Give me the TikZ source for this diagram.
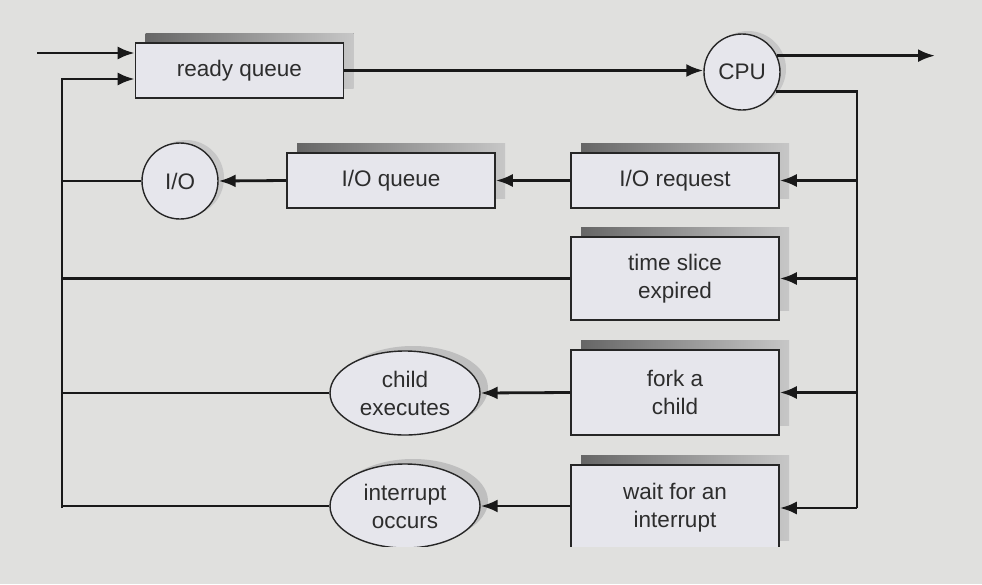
\documentclass[tikz,border=0pt]{standalone}
\usepackage{fontspec}
\setmainfont{Liberation Sans}
\usetikzlibrary{arrows.meta,shapes.geometric,shadows}
\definecolor{bg}{RGB}{224,224,222}
\definecolor{boxfill}{RGB}{230,230,236}
\definecolor{txt}{RGB}{45,45,45}
\tikzset{
  box/.style={draw=black!85, line width=1.6pt, fill=boxfill, rectangle,
    minimum width=208pt, inner sep=0pt, align=center, text=txt,
    font=\fontsize{22.5}{28}\selectfont,
    drop shadow={shadow xshift=10pt, shadow yshift=10pt, opacity=1,
      left color=black!60, right color=black!22, draw=none}},
  rnd/.style={draw=black!85, line width=1.4pt, fill=boxfill, circle,
    minimum size=76pt, inner sep=0pt, text=txt, font=\fontsize{22.5}{28}\selectfont,
    drop shadow={shadow xshift=6pt, shadow yshift=3pt, opacity=1, fill=black!22, draw=none}},
  ell/.style={draw=black!85, line width=1.4pt, fill=boxfill, ellipse,
    minimum width=150pt, minimum height=84pt, inner sep=0pt, align=center, text=txt,
    font=\fontsize{22.5}{28}\selectfont,
    drop shadow={shadow xshift=8pt, shadow yshift=5pt, opacity=1, fill=black!25, draw=none}},
  wire/.style={line width=2.8pt, draw=black!90},
  arr/.style={wire, -{Latex[length=17pt,width=13pt]}}
}
\begin{document}
\begin{tikzpicture}[x=1pt,y=-1pt]
\fill[bg] (0,0) rectangle (982,584);
\useasboundingbox (0,0) rectangle (982,584);

\node[box, minimum height=55pt] (rq) at (239.5,70.5) {ready queue};
\node[rnd] (cpu) at (742,72) {CPU};
\node[box, minimum height=55pt] (ioreq) at (675,180.5) {I/O request};
\node[box, minimum height=55pt] (ioq) at (391,180.5) {I/O queue};
\node[rnd] (io) at (180,181) {I/O};
\node[box, minimum height=83pt] (ts) at (675,278.5) {time slice\\expired};
\node[box, minimum height=85pt] (fork) at (675,392.5) {fork a\\child};
\node[ell] (child) at (405,393) {child\\executes};
\begin{scope}
\clip (0,0) rectangle (982,546);
\node[box, minimum height=85pt] (wait) at (675,507.5) {wait for an\\interrupt};
\node[ell] (intr) at (405,506) {interrupt\\occurs};
\end{scope}

\coordinate (in1) at (37,53);
\coordinate (out) at (935,56);
\coordinate (rbot) at (857,508);
\coordinate (lbot) at (62,508);

% inputs to ready queue
\draw[arr] (in1) -- (in1 -| rq.west);
\draw[arr] (lbot) |- ([yshift=-8.5pt]rq.west);
% ready queue to CPU
\draw[arr] (rq.east) -- (rq.east -| cpu.west);
% CPU outputs
\draw[arr] (cpu.25) -- (out |- cpu.25);
\draw[wire] (cpu.-30) -| (rbot);
% right bus to event boxes
\draw[arr] (rbot |- ioreq) -- (ioreq.east);
\draw[arr] (rbot |- ts) -- (ts.east);
\draw[arr] (rbot |- fork) -- (fork.east);
\draw[arr] (rbot) -- (rbot -| wait.east);
% chains
\draw[arr] (ioreq.west) -- (ioq.east);
\draw[arr] (ioq.west) -- (io.east);
\draw[arr] (fork.west) -- (child.east);
\draw[arr] (wait.west |- intr) -- (intr.east);
% back to left bus
\draw[wire] (io.west) -- (io.west -| lbot);
\draw[wire] (ts.west) -- (ts.west -| lbot);
\draw[wire] (child.west) -- (child.west -| lbot);
\draw[wire] (intr.west) -- (intr.west -| lbot);
\end{tikzpicture}
\end{document}
